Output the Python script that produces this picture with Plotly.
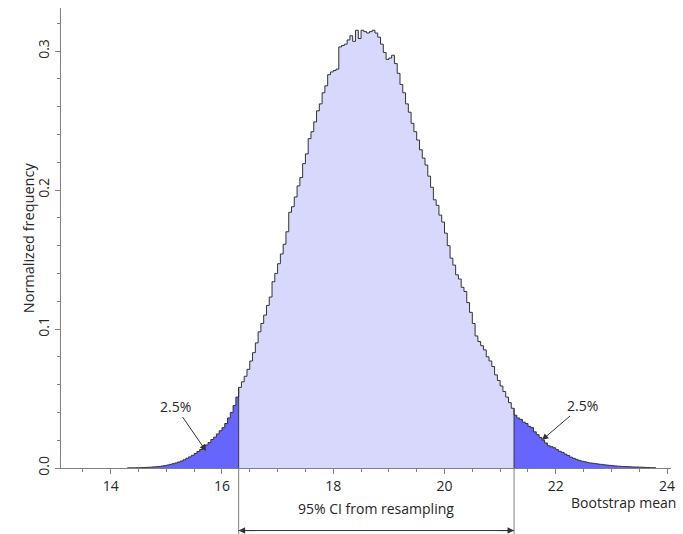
import numpy as np
import plotly.graph_objects as go

# ---- data ----
bin_start = 14.30
bin_width = 0.05
ci_low = 16.30
ci_high = 21.25

density = [
    # 14.30 .. 16.25 (lower tail)
    0.0001, 0.0001, 0.0001, 0.0002, 0.0002, 0.0003, 0.0004, 0.0005, 0.0006, 0.0008,
    0.0009, 0.0011, 0.0014, 0.0017, 0.0021, 0.0026, 0.0031, 0.0036, 0.0043, 0.0050,
    0.0059, 0.0070, 0.0080, 0.0091, 0.0104, 0.0119, 0.0133, 0.0150, 0.0166, 0.0183,
    0.0205, 0.0222, 0.0245, 0.0268, 0.0290, 0.0320, 0.0360, 0.0400, 0.0450, 0.0510,
    # 16.30 .. 21.20 (95% CI)
    0.058, 0.062, 0.066, 0.071, 0.077, 0.083, 0.090, 0.098, 0.104, 0.110,
    0.117, 0.123, 0.134, 0.140, 0.147, 0.154, 0.161, 0.170, 0.184, 0.188,
    0.195, 0.203, 0.209, 0.219, 0.226, 0.237, 0.242, 0.249, 0.257, 0.262,
    0.270, 0.275, 0.283, 0.285, 0.286, 0.287, 0.303, 0.304, 0.305, 0.308,
    0.311, 0.307, 0.315, 0.309, 0.315, 0.314, 0.313, 0.314, 0.315, 0.313,
    0.310, 0.305, 0.299, 0.294, 0.295, 0.297, 0.291, 0.284, 0.276, 0.270,
    0.262, 0.256, 0.248, 0.242, 0.236, 0.229, 0.223, 0.218, 0.210, 0.202,
    0.193, 0.189, 0.182, 0.177, 0.169, 0.160, 0.151, 0.146, 0.139, 0.136,
    0.130, 0.127, 0.119, 0.112, 0.104, 0.095, 0.091, 0.088, 0.085, 0.080,
    0.077, 0.073, 0.067, 0.063, 0.059, 0.055, 0.051, 0.047, 0.043,
    # 21.25 .. 23.75 (upper tail)
    0.038, 0.036, 0.035, 0.033, 0.032, 0.030, 0.029, 0.026, 0.024, 0.022,
    0.020, 0.018, 0.016, 0.0153, 0.0145, 0.0132, 0.0120, 0.0112, 0.0100, 0.0090,
    0.0078, 0.0070, 0.0062, 0.0055, 0.0049, 0.0045, 0.0040, 0.0036, 0.0034, 0.0031,
    0.0028, 0.0026, 0.0023, 0.0021, 0.0019, 0.0017, 0.0015, 0.0013, 0.0012, 0.0011,
    0.0010, 0.0009, 0.0008, 0.0007, 0.0007, 0.0006, 0.0005, 0.0004, 0.0003, 0.0002,
    0.0002,
]

x_ticks = [14, 16, 18, 20, 22, 24]
y_ticks = [0.0, 0.1, 0.2, 0.3]
x_title = "Bootstrap mean"
y_title = "Normalized frequency"
tail_label = "2.5%"
ci_label = "95% CI from resampling"

# ---- styles ----
LIGHT = "rgb(216,216,252)"
DARK = "rgb(102,102,255)"
EDGE = "#333333"
AXIS = "#808080"
TEXT = "#262626"
FONT = "Open Sans"

dens = np.array(density)
n = len(dens)
edges = bin_start + bin_width * np.arange(n + 1)
i_lo = int(round((ci_low - bin_start) / bin_width))
i_hi = int(round((ci_high - bin_start) / bin_width))


def step_trace(i0, i1, color):
    xs = list(edges[i0:i1 + 1])
    ys = list(dens[i0:i1]) + [dens[i1 - 1]]
    return go.Scatter(x=xs, y=ys, mode="lines", line=dict(shape="hv", width=0, color=color),
                      fill="tozeroy", fillcolor=color, hoverinfo="skip", showlegend=False)


fig = go.Figure()
fig.add_trace(step_trace(0, i_lo, DARK))
fig.add_trace(step_trace(i_lo, i_hi, LIGHT))
fig.add_trace(step_trace(i_hi, n, DARK))
fig.add_trace(go.Scatter(x=list(edges), y=list(dens) + [dens[-1]], mode="lines",
                         line=dict(shape="hv", width=1, color=EDGE), showlegend=False,
                         hoverinfo="skip"))

arrow_y = -0.136
shapes = []
for xc, i in ((ci_low, i_lo), (ci_high, i_hi)):
    top = max(dens[i - 1], dens[i])
    shapes.append(dict(type="line", xref="x", yref="y", x0=xc, x1=xc, y0=0, y1=top,
                       line=dict(color=EDGE, width=1), layer="above"))
    shapes.append(dict(type="line", xref="x", yref="paper", x0=xc, x1=xc, y0=0, y1=-0.15,
                       line=dict(color=AXIS, width=1), layer="above"))
shapes.append(dict(type="line", xref="x", yref="paper", x0=ci_low, x1=ci_high,
                   y0=arrow_y, y1=arrow_y, line=dict(color=EDGE, width=1), layer="above"))

mid = (ci_low + ci_high) / 2
arrow_style = dict(arrowhead=2, arrowsize=1.3, arrowwidth=1, arrowcolor=EDGE)
annotations = [
    dict(x=ci_low, y=arrow_y, xref="x", yref="paper", ax=18, ay=0,
         text="", showarrow=True, standoff=0, **arrow_style),
    dict(x=ci_high, y=arrow_y, xref="x", yref="paper", ax=-18, ay=0,
         text="", showarrow=True, standoff=0, **arrow_style),
    dict(x=mid, y=-0.113, xref="x", yref="paper", text=ci_label, showarrow=False,
         font=dict(family=FONT, size=14, color=TEXT)),
    dict(x=15.714, y=0.0122, xref="x", yref="y", text=tail_label, showarrow=True,
         ax=-31, ay=-45, font=dict(family=FONT, size=14, color=TEXT), **arrow_style),
    dict(x=21.75, y=0.0201, xref="x", yref="y", text=tail_label, showarrow=True,
         ax=41, ay=-35, font=dict(family=FONT, size=14, color=TEXT), **arrow_style),
    dict(x=1.0114, y=-0.074, xref="paper", yref="paper", text=x_title, showarrow=False,
         xanchor="right", yanchor="middle", font=dict(family=FONT, size=14, color=TEXT)),
    dict(x=-0.0537, y=0.5, xref="paper", yref="paper", text=y_title, showarrow=False,
         textangle=-90, xanchor="center", yanchor="middle",
         font=dict(family=FONT, size=14.5, color=TEXT)),
]

fig.update_layout(
    width=683, height=534,
    margin=dict(l=61, r=8, t=8, b=66),
    paper_bgcolor="white", plot_bgcolor="white",
    font=dict(family=FONT, size=14, color=TEXT),
    shapes=shapes, annotations=annotations,
    xaxis=dict(range=[13.107, 24.071], tickvals=x_ticks, ticktext=[str(v) for v in x_ticks],
               showgrid=False, zeroline=False, showline=True, linecolor=AXIS, linewidth=1,
               ticks="outside", ticklen=5, tickcolor=AXIS, tickwidth=1,
               minor=dict(dtick=0.5, tick0=14, ticks="outside", ticklen=3, tickcolor=AXIS,
                          showgrid=False),
               tickfont=dict(family=FONT, size=14, color=TEXT)),
    yaxis=dict(range=[0, 0.331], tickvals=y_ticks, ticktext=[f"{v:.1f}" for v in y_ticks],
               showgrid=False, zeroline=False, showline=True, linecolor=AXIS, linewidth=1,
               ticks="outside", ticklen=5, tickcolor=AXIS, tickwidth=1, tickangle=-90,
               minor=dict(dtick=0.02, tick0=0, ticks="outside", ticklen=3, tickcolor=AXIS,
                          showgrid=False),
               tickfont=dict(family=FONT, size=14, color=TEXT)),
)

fig.write_html("out.html", config={"displayModeBar": False},
               post_script="document.body.style.margin='0px';document.body.style.overflow='hidden';")
